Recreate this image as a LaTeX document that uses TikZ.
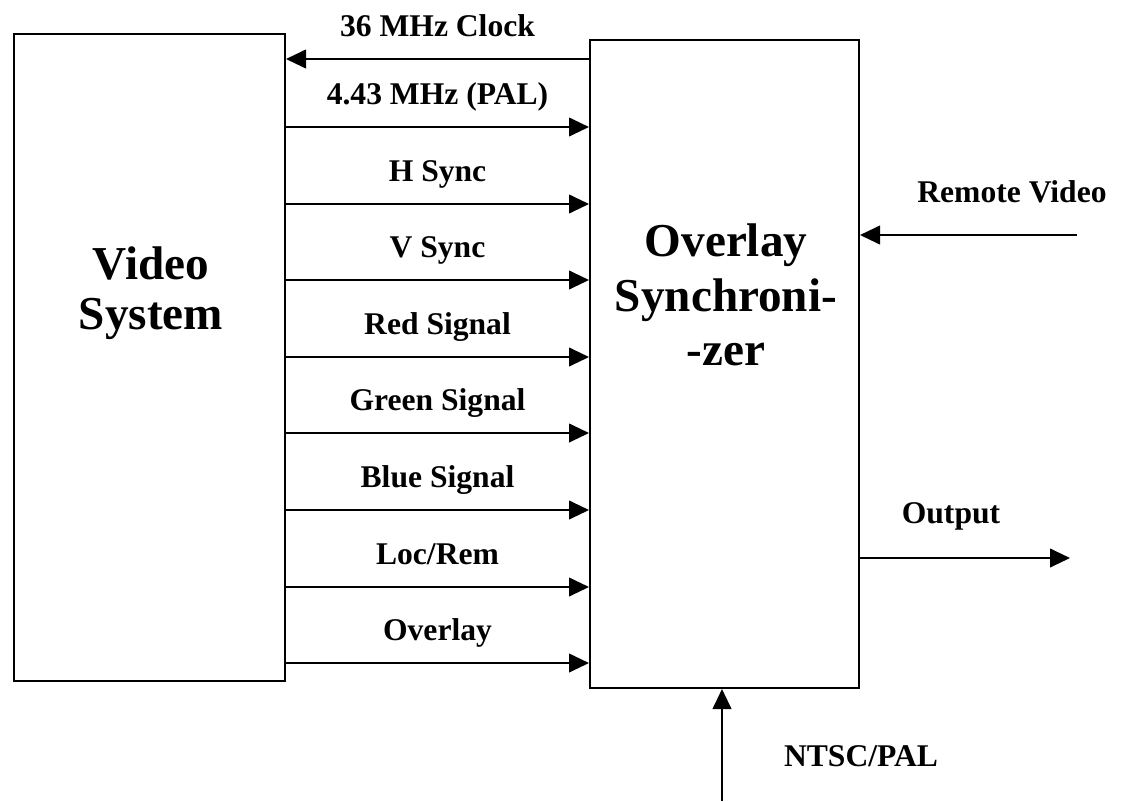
\documentclass[tikz,border=0pt]{standalone}
\usepackage{fontspec}
\setmainfont{Liberation Serif}
\usetikzlibrary{positioning,arrows.meta}

\begin{document}
\begin{tikzpicture}[x=0.75pt, y=-0.75pt,
    block/.style={draw, line width=1.5pt, inner sep=0pt},
    sig/.style={line width=1.5pt, -{Triangle[length=15pt, width=14pt]}},
    lbl/.style={font=\fontsize{23.7}{28}\selectfont\bfseries, text height=0.7em, text depth=0.22em},
    big/.style={font=\fontsize{35.4}{37.5}\selectfont\bfseries, align=center}]
    \useasboundingbox (0,0) rectangle (1129,801);
    % the two blocks
    \node[block, minimum width=203.25pt, minimum height=485.25pt] (video) at (149.5,357.5) {};
    \node[block, minimum width=201.75pt, minimum height=486pt] (sync) at (724.5,364) {};
    \node[big] (videotxt) at (151,293) {Video\\System};
    \node[big, font=\fontsize{35.4}{41}\selectfont\bfseries] (synctxt) at (726,295) {Overlay\\Synchroni-\\-zer};
    % clock back to the video system
    \draw[sig] (sync.west |- 0,59) -- node[lbl, yshift=19.5pt] (clk) {36 MHz Clock} (video.east |- 0,59);
    % signals into the synchronizer
    \foreach \y/\txt in {127/{4.43 MHz (PAL)}, 204/{H Sync}, 280/{V Sync}, 357/{Red Signal},
                         433/{Green Signal}, 510/{Blue Signal}, 587/{Loc/Rem}, 663/{Overlay}} {
        \draw[sig] (video.east |- 0,\y) -- node[lbl, yshift=19.5pt] {\txt} (sync.west |- 0,\y);
    }
    % outside connections
    \node[lbl] (remote) at (1012,199) {Remote Video};
    \node[lbl] (output) at (951,520) {Output};
    \node[lbl] (ntsc) at (861,763) {NTSC/PAL};
    \coordinate (remin) at (1077,235);
    \coordinate (outend) at (1070,558);
    \coordinate (ntscin) at (722,801);
    \draw[sig] (remin) -- (remin -| sync.east);
    \draw[sig] (sync.east |- outend) -- (outend);
    \draw[sig] (ntscin) -- (ntscin |- sync.south);
\end{tikzpicture}
\end{document}
